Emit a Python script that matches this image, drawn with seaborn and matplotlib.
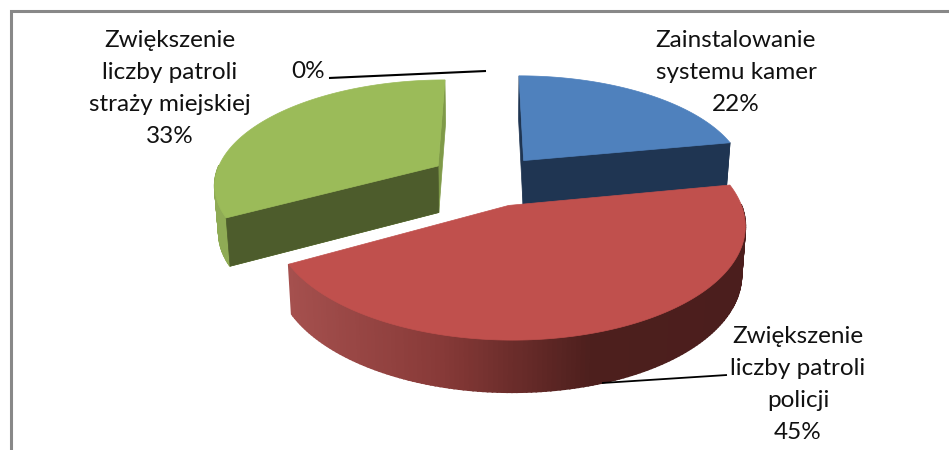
import numpy as np
import seaborn as sns
import matplotlib
matplotlib.use('Agg')
import matplotlib.pyplot as plt

sns.set_theme(style='white')
plt.rcParams['font.family'] = ['Lato', 'DejaVu Sans']

# dane z wykresu
labels = [['Zainstalowanie', 'systemu kamer'], ['Zwiększenie', 'liczby patroli', 'policji'],
          ['Zwiększenie', 'liczby patroli', 'straży miejskiej'], []]
values = [22, 45, 33, 0]
top_colors = ['#4F81BD', '#C0504D', '#9BBB59']
wall_colors = ['#1F3552', '#4B1E1D', '#4D5C2C']
edge_colors = ['#1F3552', '#4B1E1D', '#7F9A48']
rim_colors = ['#2F4D70', None, '#8FAB55']
explode = [0.25, 0.25, 0.27, 0]
label_pos = [(736, 47), (798, 343), (170, 47), (308, 78)]

# parametry rzutu 3D
CX, CY = 489, 180
A, B = 224, 104
P = 0.16
DEPTH = 47
SHRINK = 0.985
LINE_H = 32

red_cmap = sns.blend_palette(['#A5504E', '#883A38', '#4D1F1D', '#4B1E1D'], as_cmap=True)


def project(th, r, off):
    X = off[0] + r * np.sin(th)
    Y = off[1] + r * np.cos(th)
    d = 1 + P * Y
    return CX + A * X / d, CY - B * Y / d, DEPTH / (1 + 0.5 * P * Y)


def lower(x, y, h):
    return CX + (x - CX) * SHRINK, y + h


def cut_face(ax, th, off, color):
    x, y, h = project(np.array([th, th]), np.array([0.0, 1.0]), off)
    xb, yb = lower(x, y, h)
    ax.fill([x[0], x[1], xb[1], xb[0]], [y[0], y[1], yb[1], yb[0]], color=color, lw=0.5)


fig = plt.figure(figsize=(9.49, 4.5), dpi=100)
ax = fig.add_axes([0, 0, 1, 1])
ax.set_xlim(0, 949)
ax.set_ylim(450, 0)
ax.axis('off')

# ramka
ax.plot([11, 11, 949], [450, 11, 11], color='#888888', lw=2.2, solid_joinstyle='miter')

edges = np.cumsum([0] + values) / sum(values) * 2 * np.pi
# kolejnosc rysowania: zielony, niebieski, czerwony
for i in [2, 0, 1]:
    a0, a1 = edges[i], edges[i + 1]
    mid = (a0 + a1) / 2
    off = (explode[i] * np.sin(mid), explode[i] * np.cos(mid))

    # sciana zewnetrzna tylko z przodu
    th = np.linspace(a0, a1, 160)
    x, y, h = project(th, 1.0, off)
    xb, yb = lower(x, y, h)
    xmin, xmax = x.min(), x.max()
    for j in range(len(th) - 1):
        if np.cos(th[j]) > 0 and np.cos(th[j + 1]) > 0:
            continue
        c = rim_colors[i] if rim_colors[i] else red_cmap((x[j] - xmin) / (xmax - xmin))
        ax.fill([x[j], x[j + 1], xb[j + 1], xb[j]], [y[j], y[j + 1], yb[j + 1], yb[j]],
                color=c, lw=1.2)

    # sciany przekroju
    if i != 1:
        cut_face(ax, a0, off, edge_colors[i])
        cut_face(ax, a1, off, edge_colors[i])
    if i == 0:
        cut_face(ax, a1, off, wall_colors[i])
    if i == 2:
        cut_face(ax, a0, off, wall_colors[i])

    # wierzch
    ax_, ay_, _ = project(np.array([a0]), 0.0, off)
    ax.fill(np.r_[ax_, x], np.r_[ay_, y], color=top_colors[i], lw=0.5)

# linie odniesienia
ax.plot([329, 486], [78, 71], color='black', lw=1.5, solid_capstyle='butt')
ax.plot([602, 727], [383, 375], color='black', lw=1.3, solid_capstyle='butt')

# etykiety
for name, v, (px, py) in zip(labels, values, label_pos):
    for k, line in enumerate(name + [str(v) + '%']):
        ax.text(px, py + k * LINE_H, line, ha='center', va='baseline', fontsize=17.5,
                color='#111111')

plt.savefig('out.png', dpi=100)
